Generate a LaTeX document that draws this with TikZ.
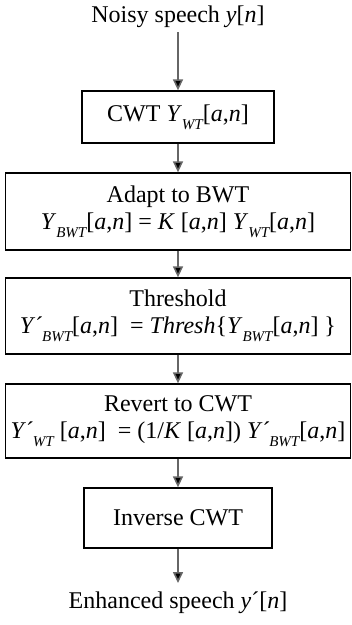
\documentclass[tikz,border=0pt]{standalone}
\usepackage{fontspec}
\setmainfont{Liberation Serif}
\usetikzlibrary{arrows.meta}
\newcommand{\mysub}[1]{\raisebox{-0.32em}{\fontsize{15}{15}\selectfont\itshape #1}}
\tikzset{
  x=1pt, y=-1pt,
  lbl/.style={font=\fontsize{24}{27}\selectfont, inner sep=0pt, align=center},
  box/.style={draw, line width=1.3pt, lbl, anchor=center},
  flow/.style={draw=black!60, line width=1.6pt, -{Triangle[width=10pt,length=11pt,fill=black]}}
}
\begin{document}
\begin{tikzpicture}
\useasboundingbox (0,0) rectangle (352,625);
\node[lbl] (in) at (178,17) {Noisy speech \textit{y}[\textit{n}]};
\node[box, minimum width=192pt, minimum height=52pt] (b1) at (178,117)
  {CWT \textit{Y}\mysub{WT}[\textit{a},\textit{n}]};
\node[box, minimum width=345pt, minimum height=77pt] (b2) at (178,211.5)
  {Adapt to BWT\\ \textit{Y}\mysub{BWT}[\textit{a},\textit{n}] = \textit{K} [\textit{a},\textit{n}] \textit{Y}\mysub{WT}[\textit{a},\textit{n}]};
\node[box, minimum width=345pt, minimum height=76pt] (b3) at (178,316)
  {Threshold\\ \textit{Y}´\kern-0.05em\mysub{BWT}[\textit{a},\textit{n}]\ \ = \textit{Thresh}\{\textit{Y}\mysub{BWT}[\textit{a},\textit{n}] \}};
\node[box, minimum width=345pt, minimum height=74pt] (b4) at (178,421)
  {Revert to CWT\\ \textit{Y}´\kern-0.05em\mysub{WT} [\textit{a},\textit{n}]\ \ = (1/\textit{K} [\textit{a},\textit{n}]) \textit{Y}´\kern-0.05em\mysub{BWT}[\textit{a},\textit{n}]};
\node[box, minimum width=188pt, minimum height=60pt] (b5) at (178,518) {Inverse CWT};
\node[lbl] (out) at (178,603) {Enhanced speech \textit{y}´[\textit{n}]};
\draw[flow] (in.south) ++(0,4) -- (b1.north);
\draw[flow] (b1) -- (b2);
\draw[flow] (b2) -- (b3);
\draw[flow] (b3) -- (b4);
\draw[flow] (b4) -- (b5);
\draw[flow] (b5.south) -- (178,583) coordinate (end);
\end{tikzpicture}
\end{document}
